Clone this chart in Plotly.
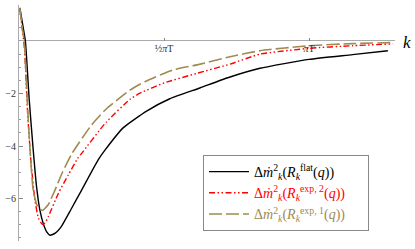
import plotly.graph_objects as go

# x in units of pi*T
black_x = [0.003, 0.013, 0.022, 0.035, 0.049, 0.060, 0.072, 0.085, 0.095, 0.107, 0.125, 0.147, 0.18, 0.216,
           0.273, 0.297, 0.36, 0.44, 0.52, 0.624, 0.72, 0.831, 1.0, 1.15, 1.272]
black_y = [1.26, 0.6, 0.0, -2.2, -4.15, -5.5, -6.44, -7.0, -7.26, -7.40, -7.32, -7.05, -6.4, -5.68,
           -4.53, -4.15, -3.3, -2.67, -2.2, -1.79, -1.4, -1.04, -0.70, -0.52, -0.37]

red_x = [0.003, 0.012, 0.019, 0.03, 0.042, 0.055, 0.067, 0.08, 0.09, 0.101, 0.136, 0.17, 0.203, 0.216,
         0.3, 0.383, 0.417, 0.5, 0.614, 0.728, 0.831, 1.0, 1.15, 1.29]
red_y = [1.22, 0.4, -0.3, -2.8, -4.7, -6.06, -6.75, -6.98, -6.93, -6.69, -5.8, -5.1, -4.46, -4.28,
         -3.1, -2.22, -1.99, -1.6, -1.23, -0.88, -0.50, -0.28, -0.18, -0.11]

gold_x = [0.003, 0.011, 0.018, 0.028, 0.038, 0.049, 0.062, 0.080, 0.10, 0.124, 0.15, 0.182, 0.25,
          0.3, 0.383, 0.434, 0.531, 0.614, 0.728, 0.831, 1.0, 1.15, 1.29]
gold_y = [1.26, 0.5, 0.0, -2.2, -4.15, -5.68, -6.25, -6.46, -6.25, -5.68, -5.0, -4.3, -3.2,
          -2.6, -1.87, -1.55, -1.1, -0.91, -0.60, -0.37, -0.18, -0.10, -0.06]

y_ticks = [-2, -4, -6]
y_ticktext = ["\u22122", "\u22124", "\u22126"]
x_ticks = [0.5, 1.0]
x_ticktext = ["\u00bd<i>\u03c0</i>T", "<i>\u03c0</i>T"]

GOLD = "#A08A52"
SERIF = "Liberation Serif, DejaVu Serif, serif"
PAD = "&nbsp;" * 5

names = [
    "<span style='color:black'>\u0394<i>\u1e41</i><sup>2</sup><sub><i>k</i></sub>(<i>R</i><sub><i>k</i></sub><sup>flat</sup>(<i>q</i>))</span>" + PAD,
    "<span style='color:red'>\u0394<i>\u1e41</i><sup>2</sup><sub><i>k</i></sub>(<i>R</i><sub><i>k</i></sub><sup>exp, 2</sup>(<i>q</i>))</span>" + PAD,
    "<span style='color:" + GOLD + "'>\u0394<i>\u1e41</i><sup>2</sup><sub><i>k</i></sub>(<i>R</i><sub><i>k</i></sub><sup>exp, 1</sup>(<i>q</i>))</span>" + PAD,
]

fig = go.Figure()
fig.add_trace(go.Scatter(x=black_x, y=black_y, mode="lines", name=names[0],
                         line=dict(color="black", width=1.4, shape="spline", smoothing=0.5)))
fig.add_trace(go.Scatter(x=red_x, y=red_y, mode="lines", name=names[1],
                         line=dict(color="red", width=1.4, shape="spline", smoothing=0.5,
                                   dash="6px,2.5px,1.5px,2.5px,1.5px,2.5px")))
fig.add_trace(go.Scatter(x=gold_x, y=gold_y, mode="lines", name=names[2],
                         line=dict(color=GOLD, width=1.6, shape="spline", smoothing=0.5,
                                   dash="13px,4px")))

ymin, ymax = -7.619, 1.371
fig.update_layout(
    width=415, height=249,
    margin=dict(l=19, r=20, t=5, b=8),
    plot_bgcolor="white", paper_bgcolor="white",
    font=dict(family=SERIF, size=10, color="#444"),
    showlegend=True,
    legend=dict(x=(203 - 19) / 376, y=(241 - 155) / 236, xanchor="left", yanchor="top",
                bordercolor="#888", borderwidth=1, bgcolor="white",
                font=dict(family=SERIF, size=14), itemwidth=40,
                tracegroupgap=0),
    xaxis=dict(range=[0, 376 / 290], showgrid=False, zeroline=False, showline=False,
               tickvals=x_ticks, ticktext=x_ticktext, ticks="inside", ticklen=3,
               tickcolor="#888", anchor="free", position=(0 - ymin) / (ymax - ymin),
               tickfont=dict(family=SERIF, size=10, color="#333")),
    yaxis=dict(range=[ymin, ymax], showgrid=False, zeroline=True, zerolinecolor="#aaa",
               zerolinewidth=1, showline=True, linecolor="#aaa", linewidth=1,
               tickvals=y_ticks, ticktext=y_ticktext, ticks="inside", ticklen=4,
               tickcolor="#888",
               minor=dict(dtick=0.5, ticks="inside", ticklen=2, tickcolor="#999", showgrid=False),
               tickfont=dict(family=SERIF, size=10, color="#333")),
)

fig.add_annotation(x=1.0, xref="paper", y=0, yref="y", text="<i>k</i>", showarrow=False,
                   xanchor="left", yanchor="middle", xshift=6, yshift=-2,
                   font=dict(family=SERIF, size=17, color="black"))

fig.write_html("out.html", config={"displayModeBar": False},
               post_script="document.body.style.margin='0';document.body.style.overflow='hidden';")
